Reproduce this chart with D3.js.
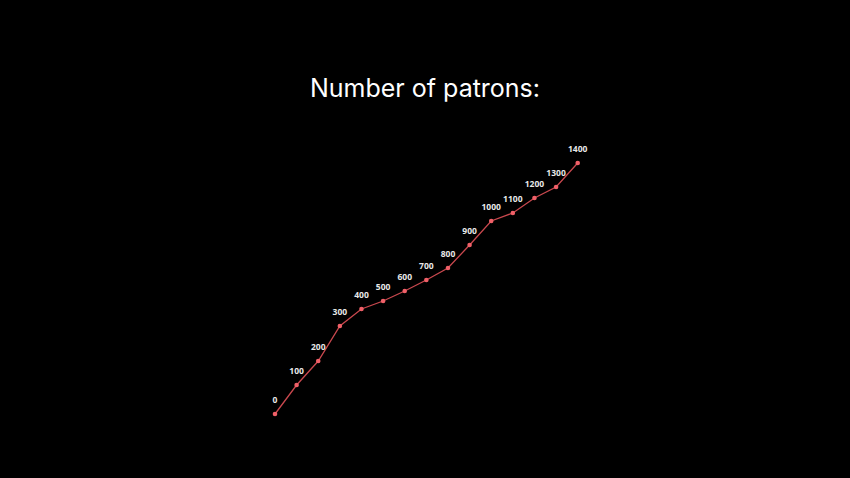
<!DOCTYPE html>
<html><head><meta charset="utf-8">
<script src="https://cdn.jsdelivr.net/npm/d3@7"></script>
<style>html,body{margin:0;padding:0;background:#000;}svg{display:block;}</style>
</head><body><svg id="c" width="850" height="478"></svg>
<script>
const steps = [0,1,2,3,4,5,6,7,8,9,10,11,12,13,14];
const patrons = [0,100,200,300,400,500,600,700,800,900,1000,1100,1200,1300,1400];
const level = [0,29,53,88,105,113,123,134,146,169,193,201,216,227,251];

const svg = d3.select("#c");
svg.append("rect").attr("width",850).attr("height",478).attr("fill","#000");
svg.append("text").attr("x",425).attr("y",97).attr("text-anchor","middle")
  .attr("fill","#fff").attr("font-family","Inter, 'Open Sans', sans-serif")
  .attr("font-size",25).text("Number of patrons:");

const x = d3.scaleLinear().domain([0,14]).range([275,577.7]);
const y = d3.scaleLinear().domain([0,250]).range([414,164]);
const data = steps.map((s,i)=>({s, v:patrons[i], l:level[i]}));

svg.append("path").datum(data)
  .attr("d", d3.line().x(d=>x(d.s)).y(d=>y(d.l)))
  .attr("fill","none").attr("stroke","#c9484e").attr("stroke-width",1.3);
svg.selectAll("circle").data(data).join("circle")
  .attr("cx",d=>x(d.s)).attr("cy",d=>y(d.l)).attr("r",2.3).attr("fill","#f06068");
svg.selectAll("text.lab").data(data).join("text").attr("class","lab")
  .attr("x",d=>x(d.s)).attr("y",d=>y(d.l)-11).attr("text-anchor","middle")
  .attr("fill","#e8e8e8").attr("font-family","'Open Sans', sans-serif")
  .attr("font-weight","bold").attr("font-size",8.5).text(d=>d.v);
</script></body></html>
